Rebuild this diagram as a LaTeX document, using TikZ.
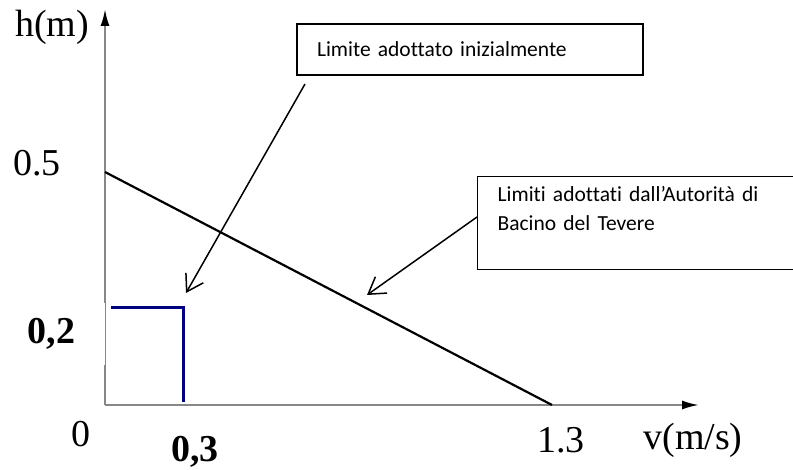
\documentclass[tikz,border=0pt]{standalone}
\usepackage{fontspec}
\setmainfont{Liberation Serif}
\newfontfamily\boxfont[Ligatures=NoCommon]{Carlito}
\usepackage{tikz}
\usetikzlibrary{arrows.meta}
\definecolor{navyline}{RGB}{0,0,128}
\definecolor{axisgray}{RGB}{135,135,135}

\begin{document}
\begin{tikzpicture}[x=1pt,y=-1pt,font=\fontsize{38}{42}\selectfont]
    \tikzstyle{axis line}=[draw=axisgray,line width=2pt,-{Latex[length=17pt,width=9pt,black]}]
    \tikzstyle{note box}=[draw,line width=1.3pt,align=left,inner xsep=20pt,
        font=\boxfont\fontsize{21.5}{29}\selectfont]
    \tikzstyle{callout}=[line width=1.5pt,-{Straight Barb[length=16pt,width=20pt]}]
    \tikzstyle{tick label}=[inner sep=0pt]
    \tikzstyle{bold label}=[inner sep=0pt,font=\fontsize{38}{42}\selectfont\bfseries]

    \useasboundingbox (0,0) rectangle (793,470);
    \clip (0,0) rectangle (793,470);

    \coordinate(O) at (105,405);
    \coordinate(ytip) at (105,9);
    \coordinate(xtip) at (699,405);
    \coordinate(h05) at (105,172);
    \coordinate(v13) at (552,405);
    \coordinate(b1) at (111,308);
    \coordinate(b2) at (183,402);
    \coordinate(tip1) at (186,293);
    \coordinate(tip2) at (367,295);
    \coordinate(s1) at (305,84);
    \coordinate(s2) at (477,217);

    \draw[axis line] (O) -- (ytip);
    \draw[axis line] (O) -- (xtip);
    \draw[line width=2.2pt] (h05) -- (v13);
    \draw[navyline,line width=3pt] (b1) -| (b2);

    \node(hm)[tick label] at (52,27) {h(m)};
    \node(l05)[tick label] at (37,163) {0.5};
    \node(l0)[tick label] at (81,434) {0};
    \node(l13)[tick label] at (561,440) {1.3};
    \node(vms)[tick label] at (693,440) {v(m/s)};
    \node(l02)[bold label,fill=white,anchor=east,minimum height=62pt,inner xsep=30pt]
        at (105.4,334) {0,2};
    \node(l03)[bold label] at (195,452) {0,3};

    \node(box1)[note box,minimum width=346pt,minimum height=51pt,text width=306pt]
        at (470,49.5) {Limite adottato inizialmente};
    \node(box2)[note box,anchor=north west,minimum width=360pt,minimum height=93pt,text width=320pt]
        at (477,176) {Limiti adottati dall’Autorità di\\Bacino del Tevere\\~};

    \draw[callout] (s1) -- (tip1);
    \draw[callout] (s2) -- (tip2);
\end{tikzpicture}
\end{document}
